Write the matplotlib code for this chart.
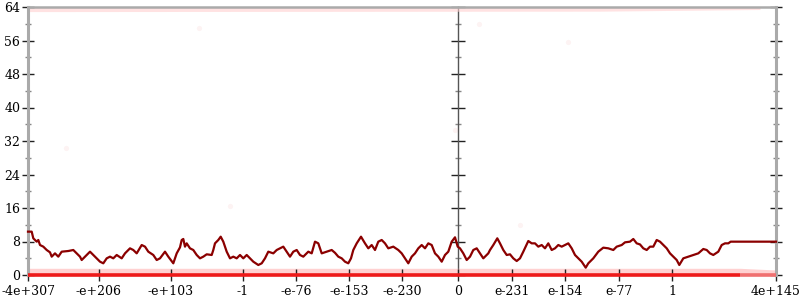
import matplotlib
matplotlib.use("Agg")
import matplotlib.pyplot as plt
from matplotlib.ticker import MultipleLocator

# ---- data (x given as position along the axis) ----
tick_pos = [28, 99, 171, 243, 296, 349, 402, 458, 512, 565, 619, 672, 776]
tick_labels = ["-4e+307", "-e+206", "-e+103", "-1", "-e-76", "-e-153", "-e-230",
               "0", "e-231", "e-154", "e-77", "1", "4e+145"]
y_ticks = [0, 8, 16, 24, 32, 40, 48, 56, 64]

line_points = [
    (28, 10.35), (31.7, 10.35), (33.3, 8.76), (36.7, 7.96), (38.3, 8.36), (40, 7.16),
    (43.3, 6.77), (46.7, 5.97), (50, 5.41), (51.7, 4.38), (55, 5.17), (58.3, 4.38),
    (61.7, 5.57), (68.3, 5.73), (73.3, 5.97), (76.7, 5.17), (80, 4.38), (81.7, 3.58),
    (85, 4.38), (90, 5.57), (93.3, 4.78), (96.7, 3.98), (100, 3.18), (103.3, 2.79),
    (106.7, 3.98), (110, 4.38), (113.3, 3.98), (116.7, 4.78), (121.7, 3.98), (125, 5.17),
    (130, 6.37), (133.3, 5.97), (136.7, 5.17), (141.7, 7.16), (145, 6.77), (148.3, 5.57),
    (153.3, 4.78), (156.7, 3.58), (160, 3.98), (165, 5.57), (168.3, 4.38), (173.3, 2.79),
    (176.7, 5.17), (180, 6.6), (181.7, 8.36), (183.3, 8.6), (185, 6.77), (186.7, 7.56),
    (190, 6.37), (193.3, 5.97), (196.7, 4.78), (200, 3.98), (203.3, 4.38), (206.7, 4.94),
    (211.7, 4.78), (213.3, 5.97), (215, 7.56), (218.3, 8.36), (220.7, 9.15), (223.3, 7.96),
    (226.7, 5.57), (230, 3.98), (233.3, 4.38), (236.7, 3.98), (240, 4.78), (243.3, 3.98),
    (246.7, 4.78), (250, 3.98), (253.3, 3.18), (258.3, 2.39), (261.7, 2.79), (265, 3.98),
    (268.3, 5.57), (273.3, 5.17), (276.7, 5.97), (280, 6.37), (283.3, 6.77), (286.7, 5.57),
    (290, 4.38), (293.3, 5.57), (296.7, 5.97), (300, 4.78), (303.3, 4.38), (308.3, 5.57),
    (311.7, 5.17), (315, 7.96), (318.3, 7.56), (321.7, 5.17), (326.7, 5.57), (331.7, 5.97),
    (335, 5.3), (338.3, 4.38), (341.7, 3.98), (345, 3.18), (348.3, 2.79), (351, 3.98),
    (353.3, 5.97), (356.7, 7.56), (361, 9.15), (365, 7.56), (368.3, 6.37), (371.7, 7.16),
    (375, 5.97), (378.3, 7.96), (381.7, 8.36), (385, 7.56), (388.3, 6.37), (393.3, 6.77),
    (398.3, 5.97), (401.7, 5.17), (405, 3.98), (408.3, 2.79), (411.7, 4.38), (415, 5.17),
    (418.3, 6.37), (421.7, 7.16), (425, 6.37), (428.3, 7.56), (431.7, 7.16), (435, 5.17),
    (438.3, 4.38), (441.7, 3.18), (445, 4.78), (448.3, 5.57), (451.7, 7.96), (455, 9.0),
    (457.7, 6.77), (460, 6.37), (463.3, 5.17), (466.7, 3.58), (470, 4.38), (473.3, 5.97),
    (476.7, 6.37), (480, 5.17), (483.3, 3.98), (488.3, 5.17), (490, 5.97), (493.3, 7.16),
    (497.3, 8.76), (500, 7.56), (503.3, 5.97), (506.7, 4.78), (510, 4.94), (513.3, 3.98),
    (516.7, 3.34), (520, 3.98), (523.3, 5.57), (528.3, 8.12), (531.7, 7.56), (535, 7.56),
    (538.3, 6.77), (541.7, 7.16), (545, 6.37), (548.3, 7.56), (551.7, 5.97), (555, 6.37),
    (558.3, 7.16), (561.7, 6.77), (565, 7.16), (568.3, 7.56), (571.7, 6.37), (575, 4.78),
    (578.3, 3.98), (581.7, 3.18), (585.7, 1.75), (588.3, 2.79), (593.3, 3.98), (598.3, 5.57),
    (603.3, 6.53), (608.3, 6.37), (613.3, 5.97), (616.7, 6.77), (621.7, 7.16), (625, 7.8),
    (630, 7.96), (633.3, 8.6), (636.7, 7.56), (640, 7.3), (643.3, 6.37), (646.7, 5.97),
    (650, 6.77), (653.3, 6.77), (656.7, 8.36), (660, 7.96), (663.3, 7.16), (666.7, 6.37),
    (670, 5.17), (673.3, 4.38), (676.7, 3.58), (679.3, 2.39), (683.3, 3.98), (688.3, 4.38),
    (693.3, 4.78), (698.3, 5.17), (703.3, 6.21), (706.7, 5.97), (710, 5.17), (713.3, 4.78),
    (718.3, 5.57), (721.7, 7.16), (725, 7.56), (728.3, 7.56), (730.7, 7.96), (776, 7.96),
]
line_x = [p[0] for p in line_points]
line_y = [p[1] for p in line_points]

# raw samples: dense bands near 0 and 64, plus a few stray points
zero_x = [28, 740]
zero_fade_x = [740, 776]
low_band_x = [28, 740, 776]
low_band_top = [1.6, 1.6, 1.2]
high_band_x = [28, 600, 760]
high_band_bottom = [62.9, 63.0, 63.4]
stray_x = [66, 199, 455, 479, 568, 230, 520]
stray_y = [30.3, 59.0, 34.6, 60.0, 55.7, 16.5, 12.0]

plt.rcParams['font.family'] = ['DejaVu Serif']

fig = plt.figure(figsize=(8, 3), dpi=100)
L, B, W, H = 28 / 800, 25 / 300, 748 / 800, 268 / 300
ax = fig.add_axes([L, B, W, H])
ax.set_xlim(28, 776)
ax.set_ylim(0, 64)

# raw point clouds
ax.fill_between(low_band_x, [0, 0, 0], low_band_top, color="#ffb3b3", alpha=0.6, lw=0,
                zorder=1)
ax.fill_between(high_band_x, high_band_bottom, [64, 64, 64], color="#ffd0d0", alpha=0.6,
                lw=0, zorder=1)
ax.scatter(stray_x, stray_y, s=14, color="#f0a0a0", alpha=0.12, lw=0, zorder=1)
ax.plot(zero_x, [0, 0], color="#ee1a1a", lw=2.6, solid_capstyle="butt",
        zorder=3, clip_on=False)
ax.plot(zero_fade_x, [0, 0], color="#f07070", lw=2.6, solid_capstyle="butt",
        zorder=3, clip_on=False)

# smoothed line
ax.plot(line_x, line_y, color="#8b0000", lw=1.6, zorder=4, clip_on=False)

# axes styling
ax.set_xticks(tick_pos)
ax.set_xticklabels(tick_labels, fontsize=9)
ax.set_yticks(y_ticks)
ax.set_yticklabels([str(v) for v in y_ticks], fontsize=9)
ax.yaxis.set_minor_locator(MultipleLocator(4))
ax.tick_params(axis="y", which="major", direction="inout", length=9, width=1,
               color="#222222", right=True, labelright=False, pad=1)
ax.tick_params(axis="y", which="minor", direction="inout", length=5, width=1,
               color="#888888", right=True)
ax.tick_params(axis="x", which="major", direction="inout", length=9, width=1,
               color="#222222", pad=3)
for side in ("left", "right"):
    ax.spines[side].set_color("#aaaaaa")
    ax.spines[side].set_linewidth(2.2)
ax.spines["top"].set_color("#aaaaaa")
ax.spines["top"].set_linewidth(1.8)
ax.spines["bottom"].set_color("#aaaaaa")
ax.spines["bottom"].set_linewidth(1.5)

# middle axis at position of "0"
mid = 458
ax_mid = fig.add_axes([L + (mid - 28) / 800, B, (776 - mid) / 800, H], facecolor="none")
ax_mid.set_ylim(0, 64)
ax_mid.set_xticks([])
ax_mid.set_yticks(y_ticks)
ax_mid.yaxis.set_minor_locator(MultipleLocator(4))
ax_mid.tick_params(axis="y", which="major", direction="inout", length=10, width=1,
                   color="#222222", labelleft=False)
ax_mid.tick_params(axis="y", which="minor", direction="inout", length=5, width=1,
                   color="#888888")
for side in ("top", "right", "bottom"):
    ax_mid.spines[side].set_visible(False)
ax_mid.spines["left"].set_color("#555555")
ax_mid.spines["left"].set_linewidth(1.0)
ax_mid.set_zorder(0)
ax.set_zorder(1)
ax.patch.set_visible(False)

fig.savefig("out.png", dpi=100)
